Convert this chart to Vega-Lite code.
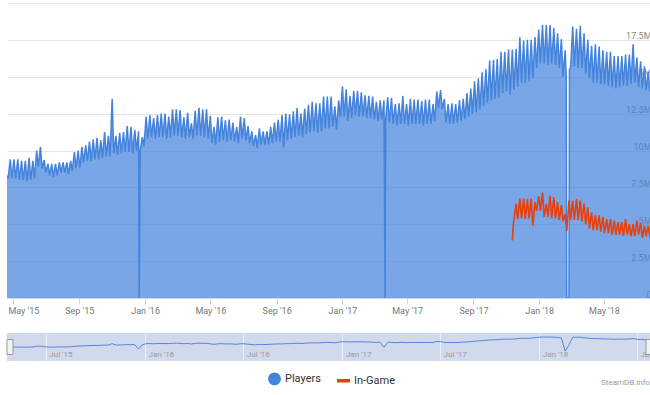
{
"$schema":"https://vega.github.io/schema/vega-lite/v6.json",
"padding":{"left":5,"top":3,"right":0,"bottom":0},
"autosize":{"type":"pad"},
"config":{"font":"Roboto","view":{"stroke":null},
 "axisY":{"orient":"right","title":null,"values":[0,2.5,5,7.5,10,12.5,15,17.5,20],
    "labelExpr":"datum.value >= 20 ? '' : (datum.value == 0 ? '0' : datum.value + 'M')",
    "labelAlign":"right","labelPadding":-1,"labelOverlap":false,
    "labelBaseline":{"condition":{"test":"datum.value >= 20","value":"top"},"value":"alphabetic"},
    "labelOffset":{"condition":{"test":"datum.value >= 20","value":2},"value":-1},
    "ticks":false,"domain":false,"gridColor":"#a8a8a8","gridOpacity":0.3,"labelFontSize":9,"labelColor":"#888888","zindex":1}},
"title":{"text":"SteamDB.info","orient":"bottom","anchor":"end","fontSize":8,"fontWeight":"normal","color":"#999999","offset":-9,"dx":-4},
"datasets":{
"players":[
{"d":"2015-04-20","v":8.3},{"d":"2015-04-22","v":8.1},
{"d":"2015-04-26","v":9.4},{"d":"2015-04-29","v":8.1},
{"d":"2015-05-03","v":9.4},{"d":"2015-05-06","v":8.1},
{"d":"2015-05-10","v":9.4},{"d":"2015-05-13","v":8.0},
{"d":"2015-05-17","v":9.3},{"d":"2015-05-20","v":8.0},
{"d":"2015-05-24","v":9.3},{"d":"2015-05-27","v":7.9},
{"d":"2015-05-31","v":9.5},{"d":"2015-06-03","v":8.0},
{"d":"2015-06-07","v":9.3},{"d":"2015-06-10","v":8.1},
{"d":"2015-06-14","v":10.0},{"d":"2015-06-17","v":8.9},
{"d":"2015-06-21","v":10.25},{"d":"2015-06-24","v":8.8},
{"d":"2015-06-28","v":9.35},{"d":"2015-07-01","v":8.5},
{"d":"2015-07-05","v":9.1},{"d":"2015-07-08","v":8.3},
{"d":"2015-07-12","v":9.1},{"d":"2015-07-15","v":8.2},
{"d":"2015-07-19","v":9.1},{"d":"2015-07-22","v":8.3},
{"d":"2015-07-26","v":9.2},{"d":"2015-07-29","v":8.5},
{"d":"2015-08-02","v":9.2},{"d":"2015-08-05","v":8.5},
{"d":"2015-08-09","v":9.2},{"d":"2015-08-12","v":8.4},
{"d":"2015-08-16","v":9.3},{"d":"2015-08-19","v":8.6},
{"d":"2015-08-23","v":9.9},{"d":"2015-08-26","v":8.8},
{"d":"2015-08-30","v":10.0},{"d":"2015-09-02","v":8.8},
{"d":"2015-09-06","v":10.25},{"d":"2015-09-09","v":9.2},
{"d":"2015-09-13","v":10.35},{"d":"2015-09-16","v":9.3},
{"d":"2015-09-20","v":10.6},{"d":"2015-09-23","v":9.3},
{"d":"2015-09-27","v":10.75},{"d":"2015-09-30","v":9.4},
{"d":"2015-10-04","v":10.86},{"d":"2015-10-07","v":9.4},
{"d":"2015-10-11","v":10.7},{"d":"2015-10-14","v":9.5},
{"d":"2015-10-18","v":11.25},{"d":"2015-10-21","v":9.6},
{"d":"2015-10-25","v":11.0},{"d":"2015-10-28","v":9.6},
{"d":"2015-11-01","v":13.5},{"d":"2015-11-04","v":9.8},
{"d":"2015-11-08","v":11.0},{"d":"2015-11-11","v":9.7},
{"d":"2015-11-15","v":11.2},{"d":"2015-11-18","v":9.8},
{"d":"2015-11-22","v":11.25},{"d":"2015-11-25","v":9.9},
{"d":"2015-11-29","v":11.65},{"d":"2015-12-02","v":9.9},
{"d":"2015-12-06","v":11.6},{"d":"2015-12-09","v":9.8},
{"d":"2015-12-13","v":11.4},{"d":"2015-12-16","v":10.0},
{"d":"2015-12-20","v":11.3},{"d":"2015-12-21","v":0},{"d":"2015-12-23","v":10.0},
{"d":"2015-12-27","v":10.9},{"d":"2015-12-30","v":10.3},
{"d":"2016-01-03","v":12.3},{"d":"2016-01-06","v":10.8},
{"d":"2016-01-10","v":12.4},{"d":"2016-01-13","v":10.9},
{"d":"2016-01-17","v":12.2},{"d":"2016-01-20","v":10.8},
{"d":"2016-01-24","v":12.4},{"d":"2016-01-27","v":10.9},
{"d":"2016-01-31","v":12.5},{"d":"2016-02-03","v":10.9},
{"d":"2016-02-07","v":12.5},{"d":"2016-02-10","v":10.8},
{"d":"2016-02-14","v":12.3},{"d":"2016-02-17","v":10.9},
{"d":"2016-02-21","v":12.8},{"d":"2016-02-24","v":11.0},
{"d":"2016-02-28","v":12.8},{"d":"2016-03-02","v":11.0},
{"d":"2016-03-06","v":12.75},{"d":"2016-03-09","v":10.9},
{"d":"2016-03-13","v":12.25},{"d":"2016-03-16","v":10.8},
{"d":"2016-03-20","v":12.55},{"d":"2016-03-23","v":10.9},
{"d":"2016-03-27","v":11.85},{"d":"2016-03-30","v":10.8},
{"d":"2016-04-03","v":12.7},{"d":"2016-04-06","v":11.0},
{"d":"2016-04-10","v":12.9},{"d":"2016-04-13","v":11.0},
{"d":"2016-04-17","v":12.8},{"d":"2016-04-20","v":10.9},
{"d":"2016-04-24","v":12.8},{"d":"2016-04-27","v":10.8},
{"d":"2016-05-01","v":12.35},{"d":"2016-05-04","v":10.5},
{"d":"2016-05-08","v":11.6},{"d":"2016-05-11","v":10.4},
{"d":"2016-05-15","v":12.25},{"d":"2016-05-18","v":10.6},
{"d":"2016-05-22","v":12.3},{"d":"2016-05-25","v":10.7},
{"d":"2016-05-29","v":12.05},{"d":"2016-06-01","v":10.6},
{"d":"2016-06-05","v":12.1},{"d":"2016-06-08","v":10.7},
{"d":"2016-06-12","v":11.9},{"d":"2016-06-15","v":10.6},
{"d":"2016-06-19","v":11.6},{"d":"2016-06-22","v":10.5},
{"d":"2016-06-26","v":12.3},{"d":"2016-06-29","v":10.8},
{"d":"2016-07-03","v":12.2},{"d":"2016-07-06","v":10.7},
{"d":"2016-07-10","v":11.65},{"d":"2016-07-13","v":10.5},
{"d":"2016-07-17","v":11.3},{"d":"2016-07-20","v":10.3},
{"d":"2016-07-24","v":11.05},{"d":"2016-07-27","v":10.2},
{"d":"2016-07-31","v":11.5},{"d":"2016-08-03","v":10.4},
{"d":"2016-08-07","v":11.3},{"d":"2016-08-10","v":10.4},
{"d":"2016-08-14","v":11.3},{"d":"2016-08-17","v":10.4},
{"d":"2016-08-21","v":11.6},{"d":"2016-08-24","v":10.5},
{"d":"2016-08-28","v":11.9},{"d":"2016-08-31","v":10.6},
{"d":"2016-09-04","v":12.1},{"d":"2016-09-07","v":10.6},
{"d":"2016-09-11","v":12.4},{"d":"2016-09-14","v":10.2},
{"d":"2016-09-18","v":12.5},{"d":"2016-09-21","v":10.7},
{"d":"2016-09-25","v":12.45},{"d":"2016-09-28","v":10.8},
{"d":"2016-10-02","v":12.65},{"d":"2016-10-05","v":10.9},
{"d":"2016-10-09","v":12.9},{"d":"2016-10-12","v":11.0},
{"d":"2016-10-16","v":12.5},{"d":"2016-10-19","v":10.9},
{"d":"2016-10-23","v":12.85},{"d":"2016-10-26","v":11.1},
{"d":"2016-10-30","v":13.1},{"d":"2016-11-02","v":11.2},
{"d":"2016-11-06","v":13.3},{"d":"2016-11-09","v":11.3},
{"d":"2016-11-13","v":13.2},{"d":"2016-11-16","v":11.2},
{"d":"2016-11-20","v":13.2},{"d":"2016-11-23","v":11.3},
{"d":"2016-11-27","v":13.65},{"d":"2016-11-30","v":11.5},
{"d":"2016-12-04","v":13.65},{"d":"2016-12-07","v":11.5},
{"d":"2016-12-11","v":13.65},{"d":"2016-12-14","v":11.6},
{"d":"2016-12-18","v":13.0},{"d":"2016-12-21","v":11.4},
{"d":"2016-12-25","v":13.4},{"d":"2016-12-28","v":12.3},
{"d":"2017-01-01","v":14.35},{"d":"2017-01-04","v":12.3},
{"d":"2017-01-08","v":14.15},{"d":"2017-01-11","v":12.0},
{"d":"2017-01-15","v":13.7},{"d":"2017-01-18","v":12.2},
{"d":"2017-01-22","v":14.05},{"d":"2017-01-25","v":12.4},
{"d":"2017-01-29","v":14.05},{"d":"2017-02-01","v":12.3},
{"d":"2017-02-05","v":13.95},{"d":"2017-02-08","v":12.3},
{"d":"2017-02-12","v":13.75},{"d":"2017-02-15","v":12.2},
{"d":"2017-02-19","v":13.7},{"d":"2017-02-22","v":12.2},
{"d":"2017-02-26","v":13.65},{"d":"2017-03-01","v":12.1},
{"d":"2017-03-05","v":13.3},{"d":"2017-03-08","v":12.0},
{"d":"2017-03-12","v":13.4},{"d":"2017-03-15","v":12.1},
{"d":"2017-03-19","v":13.4},{"d":"2017-03-21","v":0},{"d":"2017-03-22","v":12.1},
{"d":"2017-03-26","v":13.6},{"d":"2017-03-29","v":11.9},
{"d":"2017-04-02","v":13.55},{"d":"2017-04-05","v":11.8},
{"d":"2017-04-09","v":13.15},{"d":"2017-04-12","v":11.7},
{"d":"2017-04-16","v":13.2},{"d":"2017-04-19","v":11.8},
{"d":"2017-04-23","v":13.7},{"d":"2017-04-26","v":11.8},
{"d":"2017-04-30","v":13.15},{"d":"2017-05-03","v":11.7},
{"d":"2017-05-07","v":13.5},{"d":"2017-05-10","v":11.8},
{"d":"2017-05-14","v":13.45},{"d":"2017-05-17","v":11.8},
{"d":"2017-05-21","v":13.45},{"d":"2017-05-24","v":11.8},
{"d":"2017-05-28","v":13.35},{"d":"2017-05-31","v":11.7},
{"d":"2017-06-04","v":13.45},{"d":"2017-06-07","v":11.8},
{"d":"2017-06-11","v":13.45},{"d":"2017-06-14","v":11.8},
{"d":"2017-06-18","v":13.15},{"d":"2017-06-21","v":12.0},
{"d":"2017-06-25","v":14.0},{"d":"2017-06-28","v":12.9},
{"d":"2017-07-02","v":14.1},{"d":"2017-07-05","v":12.8},
{"d":"2017-07-09","v":13.5},{"d":"2017-07-12","v":11.9},
{"d":"2017-07-16","v":13.15},{"d":"2017-07-19","v":11.8},
{"d":"2017-07-23","v":13.2},{"d":"2017-07-26","v":11.8},
{"d":"2017-07-30","v":13.15},{"d":"2017-08-02","v":11.9},
{"d":"2017-08-06","v":13.4},{"d":"2017-08-09","v":12.0},
{"d":"2017-08-13","v":13.5},{"d":"2017-08-16","v":12.1},
{"d":"2017-08-20","v":13.9},{"d":"2017-08-23","v":12.3},
{"d":"2017-08-27","v":14.2},{"d":"2017-08-30","v":12.5},
{"d":"2017-09-03","v":14.7},{"d":"2017-09-06","v":12.6},
{"d":"2017-09-10","v":14.9},{"d":"2017-09-13","v":12.8},
{"d":"2017-09-17","v":15.3},{"d":"2017-09-20","v":13.0},
{"d":"2017-09-24","v":15.5},{"d":"2017-09-27","v":13.2},
{"d":"2017-10-01","v":16.1},{"d":"2017-10-04","v":13.4},
{"d":"2017-10-08","v":16.15},{"d":"2017-10-11","v":13.5},
{"d":"2017-10-15","v":16.2},{"d":"2017-10-18","v":13.6},
{"d":"2017-10-22","v":16.7},{"d":"2017-10-25","v":13.9},
{"d":"2017-10-29","v":16.7},{"d":"2017-11-01","v":14.0},
{"d":"2017-11-05","v":16.85},{"d":"2017-11-08","v":13.8},
{"d":"2017-11-12","v":16.85},{"d":"2017-11-15","v":14.1},
{"d":"2017-11-19","v":16.9},{"d":"2017-11-22","v":14.3},
{"d":"2017-11-26","v":17.7},{"d":"2017-11-29","v":14.6},
{"d":"2017-12-03","v":17.45},{"d":"2017-12-06","v":14.6},
{"d":"2017-12-10","v":17.5},{"d":"2017-12-13","v":14.7},
{"d":"2017-12-17","v":17.5},{"d":"2017-12-20","v":14.9},
{"d":"2017-12-24","v":17.7},{"d":"2017-12-27","v":15.6},
{"d":"2017-12-31","v":18.2},{"d":"2018-01-03","v":15.9},
{"d":"2018-01-07","v":18.5},{"d":"2018-01-10","v":15.9},
{"d":"2018-01-14","v":18.5},{"d":"2018-01-17","v":15.8},
{"d":"2018-01-21","v":18.5},{"d":"2018-01-24","v":15.9},
{"d":"2018-01-28","v":18.3},{"d":"2018-01-31","v":15.8},
{"d":"2018-02-04","v":17.95},{"d":"2018-02-07","v":15.6},
{"d":"2018-02-11","v":17.55},{"d":"2018-02-14","v":15.0},
{"d":"2018-02-18","v":16.8},{"d":"2018-02-20","v":15.0},
{"d":"2018-02-21","v":0},{"d":"2018-02-22","v":0},{"d":"2018-02-23","v":0},{"d":"2018-02-24","v":0},{"d":"2018-02-25","v":0},
{"d":"2018-02-26","v":15.5},{"d":"2018-02-28","v":15.6},
{"d":"2018-03-04","v":18.4},{"d":"2018-03-07","v":15.7},
{"d":"2018-03-11","v":18.25},{"d":"2018-03-14","v":15.6},
{"d":"2018-03-18","v":18.45},{"d":"2018-03-21","v":15.6},
{"d":"2018-03-25","v":17.95},{"d":"2018-03-28","v":15.2},
{"d":"2018-04-01","v":17.5},{"d":"2018-04-04","v":14.9},
{"d":"2018-04-08","v":17.1},{"d":"2018-04-11","v":14.6},
{"d":"2018-04-15","v":17.2},{"d":"2018-04-18","v":14.6},
{"d":"2018-04-22","v":17.05},{"d":"2018-04-25","v":14.5},
{"d":"2018-04-29","v":16.8},{"d":"2018-05-02","v":14.5},
{"d":"2018-05-06","v":16.7},{"d":"2018-05-09","v":14.4},
{"d":"2018-05-13","v":16.7},{"d":"2018-05-16","v":14.3},
{"d":"2018-05-20","v":16.4},{"d":"2018-05-23","v":14.2},
{"d":"2018-05-27","v":16.4},{"d":"2018-05-30","v":14.3},
{"d":"2018-06-03","v":16.4},{"d":"2018-06-06","v":14.4},
{"d":"2018-06-10","v":16.5},{"d":"2018-06-13","v":14.4},
{"d":"2018-06-17","v":16.5},{"d":"2018-06-20","v":14.5},
{"d":"2018-06-24","v":17.2},{"d":"2018-06-27","v":14.6},
{"d":"2018-07-01","v":16.3},{"d":"2018-07-04","v":14.3},
{"d":"2018-07-08","v":16.05},{"d":"2018-07-11","v":14.2},
{"d":"2018-07-15","v":15.7},{"d":"2018-07-18","v":14.1},
{"d":"2018-07-22","v":15.35},{"d":"2018-07-25","v":14.0},
{"d":"2018-07-29","v":14.5}
],
"ingame":[
{"d":"2017-11-12","v":3.9},{"d":"2017-11-14","v":5.1},{"d":"2017-11-15","v":5.3},
{"d":"2017-11-19","v":6.4},{"d":"2017-11-22","v":5.35},
{"d":"2017-11-26","v":6.75},{"d":"2017-11-29","v":5.4},
{"d":"2017-12-03","v":6.75},{"d":"2017-12-06","v":5.35},
{"d":"2017-12-10","v":6.7},{"d":"2017-12-13","v":5.4},
{"d":"2017-12-17","v":6.75},{"d":"2017-12-20","v":4.9},
{"d":"2017-12-24","v":6.5},{"d":"2017-12-27","v":5.9},
{"d":"2017-12-31","v":6.9},{"d":"2018-01-03","v":5.9},
{"d":"2018-01-07","v":7.15},{"d":"2018-01-10","v":5.5},
{"d":"2018-01-14","v":6.4},{"d":"2018-01-17","v":5.5},
{"d":"2018-01-21","v":6.95},{"d":"2018-01-24","v":5.4},
{"d":"2018-01-28","v":6.85},{"d":"2018-01-31","v":5.4},
{"d":"2018-02-04","v":6.5},{"d":"2018-02-07","v":5.3},
{"d":"2018-02-11","v":6.3},{"d":"2018-02-14","v":5.2},
{"d":"2018-02-18","v":5.7},{"d":"2018-02-21","v":4.55},
{"d":"2018-02-25","v":6.6},{"d":"2018-02-28","v":5.3},
{"d":"2018-03-04","v":6.6},{"d":"2018-03-07","v":5.3},
{"d":"2018-03-11","v":6.7},{"d":"2018-03-14","v":5.3},
{"d":"2018-03-18","v":6.6},{"d":"2018-03-21","v":5.2},
{"d":"2018-03-25","v":6.4},{"d":"2018-03-28","v":5.0},
{"d":"2018-04-01","v":6.15},{"d":"2018-04-04","v":4.7},
{"d":"2018-04-08","v":5.8},{"d":"2018-04-11","v":4.6},
{"d":"2018-04-15","v":5.6},{"d":"2018-04-18","v":4.6},
{"d":"2018-04-22","v":5.6},{"d":"2018-04-25","v":4.5},
{"d":"2018-04-29","v":5.5},{"d":"2018-05-02","v":4.4},
{"d":"2018-05-06","v":5.35},{"d":"2018-05-09","v":4.4},
{"d":"2018-05-13","v":5.35},{"d":"2018-05-16","v":4.3},
{"d":"2018-05-20","v":5.25},{"d":"2018-05-23","v":4.3},
{"d":"2018-05-27","v":5.15},{"d":"2018-05-30","v":4.3},
{"d":"2018-06-03","v":5.15},{"d":"2018-06-06","v":4.2},
{"d":"2018-06-10","v":5.35},{"d":"2018-06-13","v":4.3},
{"d":"2018-06-17","v":5.0},{"d":"2018-06-20","v":4.2},
{"d":"2018-06-24","v":5.0},{"d":"2018-06-27","v":4.2},
{"d":"2018-07-01","v":5.25},{"d":"2018-07-04","v":4.3},
{"d":"2018-07-08","v":5.1},{"d":"2018-07-11","v":4.1},
{"d":"2018-07-15","v":4.9},{"d":"2018-07-18","v":4.2},
{"d":"2018-07-22","v":4.9},{"d":"2018-07-25","v":4.2},
{"d":"2018-07-29","v":4.5}
]
},
"spacing":18,
"resolve":{"scale":{"x":"independent","y":"independent"}},
"vconcat":[
{
"width":645,"height":295,
"layer":[
{"data":{"name":"players"},
 "mark":{"type":"area","fillOpacity":0.72,"clip":true},
 "encoding":{
  "x":{"field":"d","type":"temporal",
   "scale":{"type":"utc","domain":[{"year":2015,"month":4,"date":20,"utc":true},{"year":2018,"month":7,"date":29,"utc":true}]},
   "axis":{"title":null,"labelExpr":"utcFormat(datum.value, \"%b '%y\")","tickCount":{"interval":"month","step":4},"grid":false,
    "domainColor":"#ccd6eb","tickColor":"#ccd6eb","tickSize":6,"labelFontSize":9,"labelColor":"#777777","labelPadding":2,"labelFlush":false,"labelOverlap":false,
    "labelAlign":{"condition":{"test":"datum.value < utc(2015, 5, 15)","value":"left"},"value":"center"},
    "labelOffset":{"condition":{"test":"datum.value < utc(2015, 5, 15)","value":-5},"value":0}}},
  "y":{"field":"v","type":"quantitative","scale":{"domain":[0,20],"nice":false},
   "axis":{"values":[0,2.5,5,7.5,10,12.5,15,17.5,20]}},
  "color":{"datum":"Players","type":"nominal",
   "scale":{"domain":["Players","In-Game"],"range":["#4483dc","#e8400c"]},
   "legend":{"orient":"none","legendX":261,"legendY":369,"direction":"horizontal","title":null,
    "labelFontSize":11,"labelColor":"#333333","symbolSize":130,"columnPadding":13,"labelOffset":4,"padding":0,
    "encode":{"symbols":{"update":{
      "shape":{"signal":"datum.value === 'Players' ? 'circle' : 'M-1,-0.16H1V0.16H-1Z'"},
      "fill":{"signal":"scale('color', datum.value)"},
      "stroke":{"value":"transparent"},
      "fillOpacity":{"value":1},"opacity":{"value":1}}}}}}
 }},
{"data":{"name":"players"},
 "mark":{"type":"line","strokeWidth":1.5,"clip":true},
 "encoding":{
  "x":{"field":"d","type":"temporal"},
  "y":{"field":"v","type":"quantitative","axis":{"values":[0,2.5,5,7.5,10,12.5,15,17.5,20]}},
  "color":{"datum":"Players","type":"nominal"}}},
{"data":{"name":"ingame"},
 "mark":{"type":"line","strokeWidth":1.6,"clip":true},
 "encoding":{
  "x":{"field":"d","type":"temporal"},
  "y":{"field":"v","type":"quantitative","axis":{"values":[0,2.5,5,7.5,10,12.5,15,17.5,20]}},
  "color":{"datum":"In-Game","type":"nominal"}}}
]
},
{
"width":645,"height":28,
"view":{"fill":"#d1daed","stroke":null},
"layer":[
{"data":{"name":"players"},
 "transform":[
  {"timeUnit":"utcyearweek","field":"d","as":"w"},
  {"aggregate":[{"op":"mean","field":"v","as":"m"}],"groupby":["w"]}
 ],
 "mark":{"type":"line","strokeWidth":1,"color":"#4f87d9","clip":true},
 "encoding":{
  "x":{"field":"w","type":"temporal",
   "scale":{"type":"utc","domain":[{"year":2015,"month":4,"date":20,"utc":true},{"year":2018,"month":7,"date":29,"utc":true}]},
   "axis":{"title":null,"orient":"bottom","tickCount":{"interval":"month","step":6},
    "grid":true,"gridColor":"#eaeef7","domain":false,"ticks":false,"labelAlign":"left","labelBaseline":"alphabetic",
    "labelPadding":-5,"labelOffset":3,"labelFontSize":8,"labelColor":"#999999","labelFlush":false,"labelOverlap":false,
    "labelExpr":"(utcyear(datum.value) == 2018 && utcmonth(datum.value) >= 5) ? 'Ju…' : utcFormat(datum.value, \"%b '%y\")"}},
  "y":{"field":"m","type":"quantitative","scale":{"domain":[-3.1,20.6],"nice":false,"zero":false},"axis":null}}},
{"data":{"values":[{"d":"2015-04-20"}]},
 "mark":{"type":"point","shape":"M0,-1H0.8V1H0Z","size":225,"filled":true,"fill":"#f2f2f2","stroke":"#999999","strokeWidth":1,"opacity":1},
 "encoding":{"x":{"field":"d","type":"temporal"}}},
{"data":{"values":[{"d":"2018-07-29"}]},
 "mark":{"type":"point","shape":"M-0.8,-1H0V1H-0.8Z","size":225,"filled":true,"fill":"#f2f2f2","stroke":"#999999","strokeWidth":1,"opacity":1},
 "encoding":{"x":{"field":"d","type":"temporal"}}}
]
}
]
}
